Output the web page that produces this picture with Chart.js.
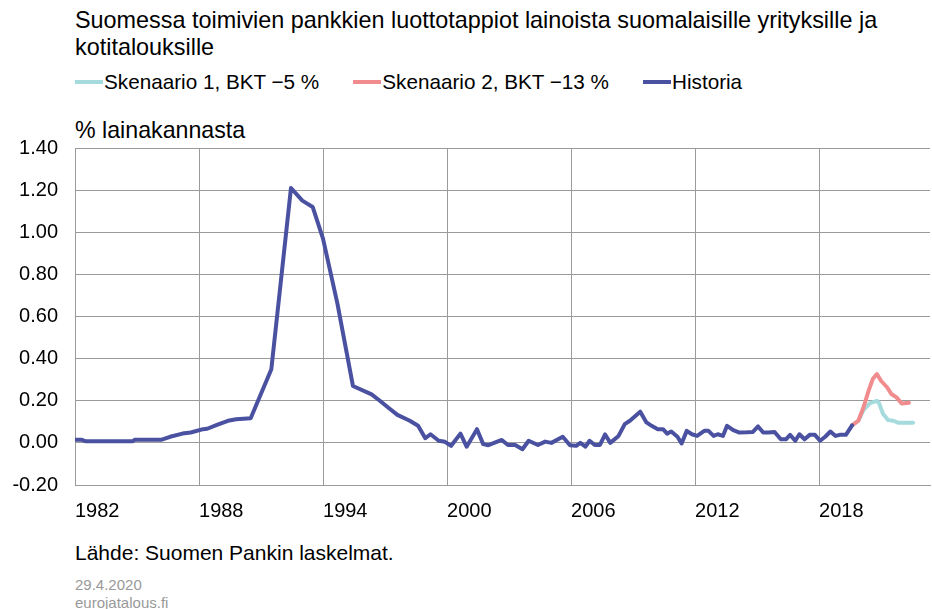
<!DOCTYPE html>
<html lang="fi">
<head>
<meta charset="utf-8">
<title>Luottotappiot</title>
<script src="https://cdn.jsdelivr.net/npm/chart.js@4/dist/chart.umd.min.js"></script>
<style>
  html, body { margin: 0; padding: 0; background: #fff; }
  body { width: 932px; height: 609px; position: relative; overflow: hidden;
         font-family: "Liberation Sans", Arial, sans-serif; color: #000; }
  .txt { position: absolute; left: 75px; white-space: nowrap; }
  #otsikko { top: 7px; font-size: 23.4px; line-height: 27px; }
  #selite { top: 70px; left: 75px; position: absolute; display: flex; font-size: 20.7px; line-height: 24px; }
  #selite .item { display: flex; align-items: center; margin-right: 34px; }
  #selite .viiva { width: 28px; height: 4px; margin-right: 1px; }
  #yksikko { top: 117px; font-size: 23.2px; line-height: 26px; }
  #lahde { top: 541px; font-size: 21px; line-height: 24px; }
  .pvm { font-size: 15px; line-height: 18px; color: #999; }
  #kuva { position: absolute; left: 0; top: 119px; width: 932px; height: 418px; }
</style>
</head>
<body>
<div id="otsikko" class="txt">Suomessa toimivien pankkien luottotappiot lainoista suomalaisille yrityksille ja<br>kotitalouksille</div>
<div id="selite"></div>
<div id="yksikko" class="txt">% lainakannasta</div>
<div id="kuva"><canvas id="grafiikka"></canvas></div>
<div id="lahde" class="txt">Lähde: Suomen Pankin laskelmat.</div>
<div class="txt pvm" style="top:576px">29.4.2020</div>
<div class="txt pvm" style="top:594px">eurojatalous.fi</div>

<script>
// historia, vuosi desimaalina
const histVuodet = [1982.0, 1982.3, 1982.5, 1984.8, 1984.9, 1986.2, 1986.6, 1987.2, 1987.6, 1988.2,
  1988.4, 1988.9, 1989.4, 1989.8, 1990.5, 1991.5, 1992.45, 1993.0, 1993.5, 1994.0,
  1994.7, 1995.45, 1996.35, 1996.75, 1997.15, 1997.6, 1998.2, 1998.6, 1998.95, 1999.2,
  1999.6, 1999.9, 2000.2, 2000.65, 2000.95, 2001.45, 2001.75, 2002.0, 2002.65, 2002.95,
  2003.3, 2003.65, 2003.95, 2004.4, 2004.75, 2005.05, 2005.6, 2005.95, 2006.25, 2006.45,
  2006.7, 2006.9, 2007.15, 2007.4, 2007.65, 2007.9, 2008.3, 2008.6, 2008.85, 2009.35,
  2009.65, 2009.9, 2010.2, 2010.45, 2010.65, 2010.85, 2011.15, 2011.35, 2011.6, 2011.85,
  2012.1, 2012.45, 2012.65, 2012.9, 2013.1, 2013.35, 2013.55, 2013.85, 2014.15, 2014.5,
  2014.8, 2015.05, 2015.3, 2015.55, 2015.85, 2016.15, 2016.4, 2016.6, 2016.85, 2017.05,
  2017.3, 2017.55, 2017.8, 2018.05, 2018.3, 2018.55, 2018.8, 2019.0, 2019.3, 2019.6];
const histArvot = [0.015, 0.015, 0.008, 0.008, 0.015, 0.015, 0.029, 0.044, 0.049, 0.065,
  0.067, 0.087, 0.105, 0.112, 0.117, 0.35, 1.21, 1.15, 1.12, 0.97,
  0.66, 0.27, 0.23, 0.2, 0.168, 0.133, 0.105, 0.081, 0.022, 0.041,
  0.01, 0.005, -0.014, 0.044, -0.018, 0.065, -0.006, -0.011, 0.014, -0.01,
  -0.01, -0.03, 0.01, -0.01, 0.006, 0.0, 0.029, -0.011, -0.014, 0.0,
  -0.018, 0.01, -0.01, -0.01, 0.04, 0.0, 0.033, 0.089, 0.105, 0.148,
  0.097, 0.081, 0.065, 0.065, 0.044, 0.054, 0.029, -0.003, 0.057, 0.041,
  0.033, 0.057, 0.057, 0.033, 0.041, 0.033, 0.081, 0.06, 0.049, 0.05,
  0.052, 0.078, 0.049, 0.049, 0.052, 0.017, 0.017, 0.038, 0.01, 0.041,
  0.017, 0.038, 0.038, 0.01, 0.029, 0.054, 0.033, 0.038, 0.038, 0.083];

const sk1Vuodet = [2019.6, 2019.9, 2020.15, 2020.45, 2020.8, 2020.9, 2021.1, 2021.35, 2021.6, 2021.85, 2022.55];
const sk1Arvot = [0.083, 0.105, 0.155, 0.187, 0.2, 0.19, 0.137, 0.108, 0.105, 0.095, 0.095];

const sk2Vuodet = [2019.6, 2019.9, 2020.15, 2020.4, 2020.6, 2020.8, 2021.0, 2021.3, 2021.5, 2021.75, 2022.0, 2022.35];
const sk2Arvot = [0.083, 0.105, 0.168, 0.248, 0.303, 0.327, 0.295, 0.263, 0.232, 0.216, 0.187, 0.19];

const xTikit = [1982, 1988, 1994, 2000, 2006, 2012, 2018];
const yTikit = [-0.2, 0, 0.2, 0.4, 0.6, 0.8, 1.0, 1.2, 1.4];

function pisteet(vuodet, arvot) {
    return vuodet.map((v, i) => ({ x: v, y: arvot[i] }));
}

const sarjat = [
    { label: 'Skenaario 1, BKT \u22125 %', data: pisteet(sk1Vuodet, sk1Arvot), borderColor: '#a6dbdd', order: 2 },
    { label: 'Skenaario 2, BKT \u221213 %', data: pisteet(sk2Vuodet, sk2Arvot), borderColor: '#f08c8e', order: 1 },
    { label: 'Historia', data: pisteet(histVuodet, histArvot), borderColor: '#4a51a0', order: 0 }
];

const ruudukko = '#9a9a9a';

const kaavio = new Chart(document.getElementById('grafiikka'), {
    type: 'line',
    data: {
        datasets: sarjat.map(s => Object.assign({
            borderWidth: 4,
            pointRadius: 0,
            tension: 0,
            borderJoinStyle: 'round',
            borderCapStyle: 'round',
            fill: false
        }, s))
    },
    options: {
        responsive: true,
        maintainAspectRatio: false,
        animation: false,
        layout: { padding: { left: 0, right: 2, top: 0, bottom: 0 } },
        plugins: {
            legend: { display: false },
            tooltip: { enabled: false }
        },
        scales: {
            x: {
                type: 'linear',
                min: 1982,
                max: 2023.37,
                afterBuildTicks: ax => { ax.ticks = xTikit.map(v => ({ value: v })); },
                grid: { color: ruudukko, drawTicks: false },
                border: { color: ruudukko },
                ticks: {
                    align: 'start',
                    padding: 14,
                    color: '#000',
                    font: { family: 'Liberation Sans', size: 20 },
                    callback: v => String(v)
                }
            },
            y: {
                min: -0.2,
                max: 1.4,
                afterBuildTicks: ax => { ax.ticks = yTikit.map(v => ({ value: v })); },
                afterFit: ax => { ax.width = 75; },
                grid: { color: ruudukko, drawTicks: false },
                border: { color: ruudukko },
                ticks: {
                    padding: 17,
                    color: '#000',
                    font: { family: 'Liberation Sans', size: 20 },
                    callback: v => Number(v).toFixed(2)
                }
            }
        }
    }
});

// selite sarjojen järjestyksessä
const selite = document.getElementById('selite');
kaavio.data.datasets.forEach(ds => {
    const item = document.createElement('div');
    item.className = 'item';
    item.innerHTML = '<span class="viiva" style="background:' + ds.borderColor + '"></span><span>' + ds.label + '</span>';
    selite.appendChild(item);
});
</script>
</body>
</html>
